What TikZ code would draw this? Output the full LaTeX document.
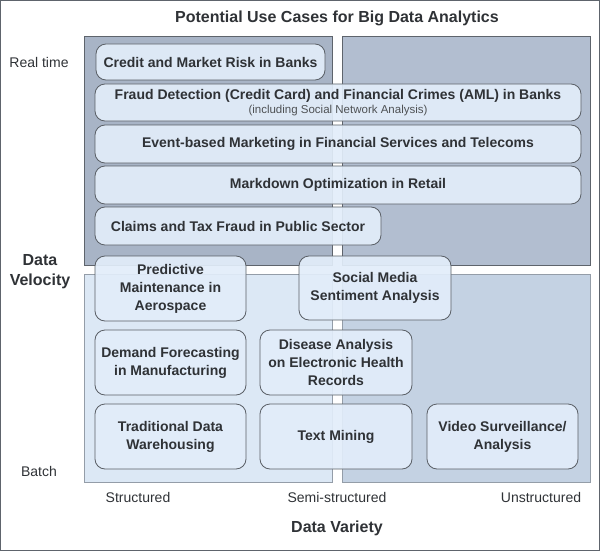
\documentclass[tikz,border=0pt]{standalone}
\usepackage{fontspec}
\setmainfont{Liberation Sans}
\definecolor{qtl}{HTML}{A8B4C6}
\definecolor{qtr}{HTML}{B2BED0}
\definecolor{qbl}{HTML}{DCE8F5}
\definecolor{qbr}{HTML}{C4D2E3}
\definecolor{boxfill}{HTML}{E2EDFA}
\definecolor{boxline}{HTML}{5A5F66}
\definecolor{txt}{HTML}{2F3236}
\definecolor{qlinedark}{HTML}{5E646C}
\definecolor{qlinelight}{HTML}{949DA8}
\tikzset{
  quad/.style={line width=0.8pt},
  ucbox/.style={draw=boxline, line width=0.8pt, rounded corners=10pt, fill=boxfill,
    fill opacity=0.92, text opacity=1, text=txt, align=center, inner sep=0pt,
    font=\bfseries\fontsize{14}{18}\selectfont},
  axlab/.style={text=txt, font=\fontsize{14}{16}\selectfont},
  axtitle/.style={text=txt, font=\bfseries\fontsize{16}{20}\selectfont, align=center},
}
\begin{document}
\begin{tikzpicture}[x=1pt,y=-1pt]
\useasboundingbox (0,0) rectangle (600,551);
\draw[line width=1pt, draw=qlinedark] (0.5,0.5) rectangle (599.5,550.5);
% quadrants
\fill[qtl] (84,36) rectangle (332,265);
\draw[quad, draw=qlinedark] (84,36) rectangle (332,265);
\fill[qtr] (342,36) rectangle (590,265);
\draw[quad, draw=qlinedark] (342,36) rectangle (590,265);
\fill[qbl] (84,274) rectangle (332,482);
\draw[quad, draw=qlinelight] (84,274) rectangle (332,482);
\fill[qbr] (342,274) rectangle (590,482);
\draw[quad, draw=qlinelight] (342,274) rectangle (590,482);
% titles and axis labels
\node[axtitle] (title) at (337,18) {Potential Use Cases for Big Data Analytics};
\node[axtitle] (variety) at (337,528) {Data Variety};
\node[axtitle] (velocity) at (40,272) {Data\\Velocity};
\node[axlab] (rt) at (39,62) {Real time};
\node[axlab] (batch) at (39,471) {Batch};
\node[axlab] (st) at (138,497) {Structured};
\node[axlab] (semi) at (337,497) {Semi-structured};
\node[axlab] (unst) at (541,497) {Unstructured};
% use case boxes
\node[ucbox, minimum width=229pt, minimum height=36pt] (credit) at (210.5,62) {Credit and Market Risk in Banks};
\node[ucbox, minimum width=486pt, minimum height=37pt] (fraud) at (338,102.5) {Fraud Detection (Credit Card) and Financial Crimes (AML) in Banks\\[-4pt]{\mdseries\fontsize{11.5}{13}\selectfont\color{txt!85!white}(including Social Network Analysis)}};
\node[ucbox, minimum width=486pt, minimum height=38pt] (event) at (338,144) {Event-based Marketing in Financial Services and Telecoms};
\node[ucbox, minimum width=486pt, minimum height=38pt] (markdown) at (338,185) {Markdown Optimization in Retail};
\node[ucbox, minimum width=286pt, minimum height=38pt] (claims) at (238,226) {Claims and Tax Fraud in Public Sector};
\node[ucbox, minimum width=151pt, minimum height=65pt] (predict) at (170.5,288.5) {Predictive\\Maintenance in\\Aerospace};
\node[ucbox, minimum width=152pt, minimum height=64pt] (social) at (375,288) {Social Media\\Sentiment Analysis};
\node[ucbox, minimum width=151pt, minimum height=65pt] (demand) at (170.5,362.5) {Demand Forecasting\\in Manufacturing};
\node[ucbox, minimum width=152pt, minimum height=65pt] (disease) at (336,362.5) {Disease Analysis\\on Electronic Health\\Records};
\node[ucbox, minimum width=151pt, minimum height=65pt] (dwh) at (170.5,436.5) {Traditional Data\\Warehousing};
\node[ucbox, minimum width=152pt, minimum height=65pt] (textmin) at (336,436.5) {Text Mining};
\node[ucbox, minimum width=151pt, minimum height=65pt] (video) at (502.5,436.5) {Video Surveillance/\\Analysis};
\end{tikzpicture}
\end{document}
